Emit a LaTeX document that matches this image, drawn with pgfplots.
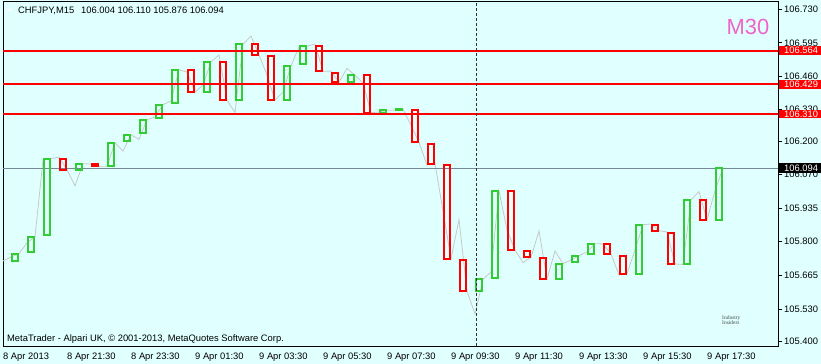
\documentclass[border=0pt]{standalone}
\usepackage{fontspec}
\setmainfont{Liberation Sans}
\newfontfamily\logofont{Liberation Serif}
\usepackage{pgfplots}
\usepackage{pgfplotstable}
\pgfplotsset{compat=1.18}
\definecolor{bgc}{RGB}{224,255,255}
\definecolor{cgreen}{RGB}{50,205,50}
\definecolor{cred}{RGB}{255,0,0}
\definecolor{m15gray}{RGB}{200,200,200}
\definecolor{slate}{RGB}{119,136,153}
\definecolor{m30pink}{RGB}{240,100,200}
\definecolor{dashc}{RGB}{50,50,50}

% M30 candles: x = position in M15 bars, open, close
\pgfplotstableread{
x open close
-0.5 105.815 105.723
1.5 105.722 105.752
3.5 105.759 105.820
5.5 105.827 106.132
7.5 106.132 106.088
9.5 106.088 106.112
11.5 106.112 106.101
13.5 106.101 106.196
15.5 106.202 106.228
17.5 106.233 106.288
19.5 106.294 106.348
21.5 106.354 106.487
23.5 106.487 106.398
25.5 106.398 106.519
27.5 106.519 106.366
29.5 106.366 106.589
31.5 106.589 106.546
33.5 106.541 106.366
35.5 106.366 106.503
37.5 106.510 106.581
39.5 106.581 106.481
41.5 106.475 106.437
43.5 106.437 106.465
45.5 106.465 106.316
47.5 106.316 106.325
49.5 106.326 106.329
51.5 106.328 106.197
53.5 106.192 106.112
55.5 106.108 105.731
57.5 105.726 105.602
59.5 105.602 105.650
61.5 105.655 106.004
63.5 106.004 105.767
65.5 105.762 105.738
67.5 105.734 105.651
69.5 105.651 105.712
71.5 105.719 105.744
73.5 105.751 105.792
75.5 105.792 105.751
77.5 105.744 105.671
79.5 105.671 105.868
81.5 105.868 105.844
83.5 105.836 105.711
85.5 105.711 105.968
87.5 105.968 105.887
89.5 105.887 106.094
}\candles

% M15 close line
\pgfplotstableread{
j close
0 105.723
1 105.739
2 105.752
3 105.795
4 105.820
5 106.126
6 106.132
7 106.138
8 106.088
9 106.023
10 106.112
11 106.110
12 106.101
13 106.102
14 106.196
15 106.162
16 106.228
17 106.209
18 106.288
19 106.298
20 106.348
21 106.362
22 106.487
23 106.478
24 106.398
25 106.426
26 106.519
27 106.546
28 106.366
29 106.316
30 106.589
31 106.622
32 106.546
33 106.466
34 106.366
35 106.398
36 106.503
37 106.578
38 106.581
39 106.590
40 106.481
41 106.482
42 106.437
43 106.493
44 106.465
45 106.434
46 106.316
47 106.318
48 106.325
49 106.326
50 106.329
51 106.266
52 106.197
53 106.106
54 106.112
55 105.923
56 105.731
57 105.889
58 105.602
59 105.511
60 105.650
61 105.679
62 106.004
63 105.847
64 105.767
65 105.716
66 105.738
67 105.843
68 105.651
69 105.763
70 105.712
71 105.727
72 105.744
73 105.759
74 105.792
75 105.791
76 105.751
77 105.667
78 105.671
79 105.767
80 105.868
81 105.871
82 105.844
83 105.839
84 105.711
85 105.709
86 105.968
87 106.000
88 105.887
89 106.004
90 106.094
}\mline

\begin{document}
\begin{tikzpicture}
\fill[bgc] (0,0) rectangle (821bp,364bp);
\begin{axis}[
  at={(3bp,18bp)}, anchor=south west,
  width=775bp, height=344bp, scale only axis,
  xmin=0, xmax=96.875, ymin=105.3831, ymax=106.758,
  axis line style={black, line width=1bp},
  tick align=outside,
  major tick length=4bp,
  tick label style={font=\fontsize{9.4}{11}\selectfont},
  xtick={0,8,16,24,32,40,48,56,64,72,80,88},
  xticklabels={8 Apr 2013,8 Apr 21:30,8 Apr 23:30,9 Apr 01:30,9 Apr 03:30,9 Apr 05:30,9 Apr 07:30,9 Apr 09:30,9 Apr 11:30,9 Apr 13:30,9 Apr 15:30,9 Apr 17:30},
  xtick style={draw=none},
  xticklabel style={anchor=base west, inner sep=0pt, yshift=-9bp},
  ytick={105.400,105.530,105.665,105.800,105.935,106.070,106.200,106.330,106.460,106.595,106.730},
  yticklabels={105.400,105.530,105.665,105.800,105.935,106.070,106.200,106.330,106.460,106.595,106.730},
  ytick pos=right, yticklabel pos=right,
  ytick style={black, line width=0.8bp},
  yticklabel style={anchor=west, inner sep=0pt, xshift=2bp},
]
\addplot[m15gray, line width=0.8bp, mark=none, forget plot] table[x=j, y=close] {\mline};
\addplot[slate, line width=1bp, mark=none, forget plot] coordinates {(0,106.094) (96.875,106.094)};

\pgfplotstablegetrowsof{\candles}
\pgfmathtruncatemacro{\lastrow}{\pgfplotsretval-1}
\pgfplotsforeachungrouped \i in {0,...,\lastrow}{%
  \pgfplotstablegetelem{\i}{x}\of{\candles}\let\cx\pgfplotsretval
  \pgfplotstablegetelem{\i}{open}\of{\candles}\let\co\pgfplotsretval
  \pgfplotstablegetelem{\i}{close}\of{\candles}\let\cc\pgfplotsretval
  \pgfmathsetmacro{\xl}{\cx-0.4125}%
  \pgfmathsetmacro{\xr}{\cx+0.4125}%
  \pgfmathsetmacro{\up}{\cc>\co ? 1 : 0}%
  \ifdim\up pt>0.5pt \def\col{cgreen}\else\def\col{cred}\fi
  \edef\temp{\noexpand\addplot[draw=\col, line width=2bp, line join=miter, line cap=rect, mark=none, forget plot] coordinates {(\xl,\co) (\xr,\co) (\xr,\cc) (\xl,\cc) (\xl,\co)};}%
  \temp
}

\addplot[cred, line width=2bp, mark=none, forget plot] coordinates {(0,106.564) (96.875,106.564)};
\addplot[cred, line width=2bp, mark=none, forget plot] coordinates {(0,106.429) (96.875,106.429)};
\addplot[cred, line width=2bp, mark=none, forget plot] coordinates {(0,106.310) (96.875,106.310)};
\addplot[dashc, line width=0.9bp, dash pattern=on 3bp off 2bp, mark=none, forget plot] coordinates {(59.125,105.3831) (59.125,106.758)};

\coordinate (r1) at (axis cs:96.875,106.564);
\coordinate (r2) at (axis cs:96.875,106.429);
\coordinate (r3) at (axis cs:96.875,106.310);
\coordinate (b1) at (axis cs:96.875,106.094);
\end{axis}

% price tags
\foreach \c/\t in {r1/106.564, r2/106.429, r3/106.310}{
  \fill[cred] ([xshift=1bp,yshift=-4.4bp]\c) rectangle ([xshift=43bp,yshift=4.4bp]\c);
  \node[anchor=west, inner sep=0pt, text=white, font=\fontsize{9.4}{11}\selectfont] at ([xshift=6bp]\c) {\t};
}
\fill[black] ([xshift=1bp,yshift=-5bp]b1) rectangle ([xshift=43bp,yshift=5bp]b1);
\node[anchor=west, inner sep=0pt, text=white, font=\fontsize{9.4}{11}\selectfont] at ([xshift=6bp]b1) {106.094};

% header and texts
\fill[white] (7bp,355bp) -- (13bp,355bp) -- (10bp,352bp) -- cycle;
\node[anchor=base west, inner sep=0pt, font=\fontsize{9.4}{11}\selectfont] at (18bp,350bp) {CHFJPY,M15\hspace{7bp}106.004 106.110 105.876 106.094};
\node[anchor=base west, inner sep=0pt, font=\fontsize{9.4}{11}\selectfont] at (7bp,22.5bp) {MetaTrader - Alpari UK, © 2001-2013, MetaQuotes Software Corp.};
\node[text=m30pink, inner sep=0pt, font=\fontsize{22}{22}\selectfont] at (748bp,337bp) {M30};
\node[anchor=west, inner sep=0pt, text=black!70, font=\logofont\fontsize{5.5}{6}\selectfont, align=left] at (722bp,44bp) {Industry\\[-1pt]Insiders};

\pgfresetboundingbox
\useasboundingbox (0,0) rectangle (821bp,364bp);
\end{tikzpicture}
\end{document}
